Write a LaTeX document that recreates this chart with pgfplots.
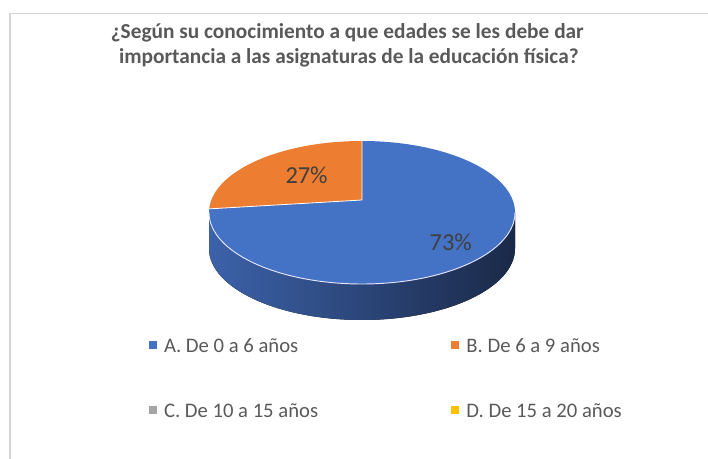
\documentclass[border=0pt]{standalone}
\usepackage{pgfplots}
\usepackage{pgfplotstable}
\pgfplotsset{compat=1.18}
\usepackage{fontspec}
\setmainfont{Carlito}
\definecolor{blueA}{HTML}{4472C4}
\definecolor{orangeB}{HTML}{ED7D31}
\definecolor{grayC}{HTML}{A5A5A5}
\definecolor{yellowD}{HTML}{FFC000}
\definecolor{txtgray}{HTML}{595959}
\definecolor{lblgray}{HTML}{404040}
\definecolor{frame}{HTML}{D4D4D4}
\definecolor{sideL}{HTML}{3C62AA}
\definecolor{sideM}{HTML}{2B4680}
\definecolor{sideR}{HTML}{1A2947}

\pgfplotstableread{
cat val
A 73
B 27
C 0
D 0
}\datatable

% perspective projection of a point (angle, radius) of the pie top, in pixels
\newcommand\projpt[2]{%
  \pgfmathsetmacro\den{1+0.175*#2*sin(#1)}%
  \pgfmathsetmacro\px{362+150.6*#2*cos(#1)/\den}%
  \pgfmathsetmacro\py{200-69.3*#2*sin(#1)/\den}}
\newcommand\legtxt[1]{\makebox[180pt][l]{#1}}

\begin{document}%
\begin{tikzpicture}
\pgfplotstablegetelem{0}{val}\of\datatable \let\vA\pgfplotsretval
\pgfplotstablegetelem{1}{val}\of\datatable \let\vB\pgfplotsretval
\pgfmathsetmacro\thB{90+3.6*\vB}
\projpt{\thB}{1}
\let\bx\px \let\by\py
\pgfmathsetmacro\tB{atan2((212.5-\by)/71.5,(\bx-362)/153)}
\projpt{90+1.8*\vB}{0.52}
\let\lbx\px \let\lby\py
\projpt{\thB+1.8*\vA}{0.72}
\let\lax\px \let\lay\py
\useasboundingbox (0,0) rectangle (531pt,344.25pt);
\begin{axis}[
  at={(0,0)}, anchor=south west,
  scale only axis, width=531pt, height=344.25pt,
  xmin=0, xmax=708, ymin=0, ymax=459, y dir=reverse,
  hide axis, clip=false,
  legend columns=2,
  legend cell align=left,
  legend style={
    at={(axis cs:149,335.9)}, anchor=north west,
    draw=none, fill=none, inner sep=0pt, outer sep=0pt,
    text=txtgray, font=\fontsize{15.5}{18}\selectfont,
    nodes={inner sep=0pt, text height=12.8pt, text depth=0pt, anchor=west},
    row sep=35.95pt,
    /tikz/every odd column/.append style={column sep=5.6pt},
    /tikz/every even column/.append style={column sep=35.6pt},
  },
]
% frame
\draw[frame, line width=1.3pt] (axis cs:10,459) -- (axis cs:10,13.5) -- (axis cs:708,13.5);
% title
\node[anchor=base, text=txtgray, font=\bfseries\fontsize{16}{19}\selectfont]
  at (axis cs:347.3,39) {¿Según su conocimiento a que edades se les debe dar};
\node[anchor=base, text=txtgray, font=\bfseries\fontsize{16}{19}\selectfont]
  at (axis cs:348.8,64) {importancia a las asignaturas de la educación física?};
% side of the pie
\fill[left color=sideL, middle color=sideM, right color=sideR]
  (axis cs:209,212.5) arc[start angle=180, end angle=360, x radius=114.75pt, y radius=53.625pt]
  -- ++(0,-27pt) arc[start angle=0, end angle=-180, x radius=114.75pt, y radius=53.625pt] -- cycle;
% top faces
\fill[blueA] (axis cs:362,200) -- (axis cs:\bx,\by)
  arc[start angle=\tB, end angle=450, x radius=114.75pt, y radius=53.625pt] -- cycle;
\fill[orangeB] (axis cs:362,200) -- (axis cs:362,141)
  arc[start angle=90, end angle=\tB, x radius=114.75pt, y radius=53.625pt] -- cycle;
% slice borders
\draw[white, line width=0.6pt] (axis cs:\bx,\by) -- (axis cs:362,200) -- (axis cs:362,141);
\draw[blue!10!white, line width=0.7pt] (axis cs:209,212.5)
  arc[start angle=180, end angle=360, x radius=114.75pt, y radius=53.625pt];
% data labels
\node[text=lblgray, font=\fontsize{18.3}{21}\selectfont, yshift=2pt] at (axis cs:\lbx,\lby) {27\%};
\node[text=lblgray, font=\fontsize{18.3}{21}\selectfont, yshift=-5pt] at (axis cs:\lax,\lay) {73\%};
% legend
\addlegendimage{legend image code/.code={\fill[blueA] (0pt,-2.625pt) rectangle (5.25pt,2.625pt);}}
\addlegendentry{\legtxt{A. De 0 a 6 años}}
\addlegendimage{legend image code/.code={\fill[orangeB] (0pt,-2.625pt) rectangle (5.25pt,2.625pt);}}
\addlegendentry{\legtxt{B. De 6 a 9 años}}
\addlegendimage{legend image code/.code={\fill[grayC] (0pt,-2.625pt) rectangle (5.25pt,2.625pt);}}
\addlegendentry{\legtxt{C. De 10 a 15 años}}
\addlegendimage{legend image code/.code={\fill[yellowD] (0pt,-2.625pt) rectangle (5.25pt,2.625pt);}}
\addlegendentry{\legtxt{D. De 15 a 20 años}}
\end{axis}
\end{tikzpicture}%
\end{document}
